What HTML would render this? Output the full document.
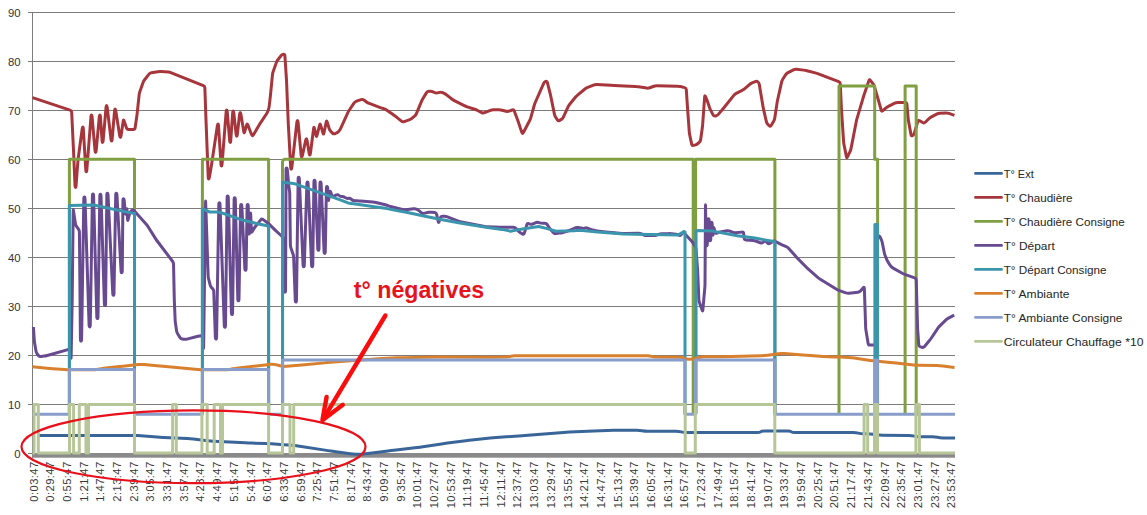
<!DOCTYPE html>
<html><head><meta charset="utf-8"><title>chart</title>
<style>
html,body{margin:0;padding:0;background:#fff;}
body{width:1147px;height:515px;overflow:hidden;font-family:"Liberation Sans",sans-serif;}
svg{display:block;}
text{font-family:"Liberation Sans",sans-serif;}
.s{fill:none;stroke-width:3.0;stroke-linejoin:round;stroke-linecap:butt;}
.g{stroke:#7c7c7c;stroke-width:1;shape-rendering:crispEdges;}
.yl{font-size:11.3px;fill:#333;text-anchor:end;}
.xl{font-size:11.2px;fill:#383838;text-anchor:end;letter-spacing:0.42px;}
.lg{font-size:11.2px;fill:#262626;}
</style></head><body>
<svg width="1147" height="515" viewBox="0 0 1147 515">
<rect x="0" y="0" width="1147" height="515" fill="#ffffff"/>
<line class="g" x1="28" y1="453.5" x2="955" y2="453.5"/>
<text class="yl" x="20.5" y="457.7">0</text>
<line class="g" x1="28" y1="404.5" x2="955" y2="404.5"/>
<text class="yl" x="20.5" y="408.7">10</text>
<line class="g" x1="28" y1="355.5" x2="955" y2="355.5"/>
<text class="yl" x="20.5" y="359.7">20</text>
<line class="g" x1="28" y1="306.5" x2="955" y2="306.5"/>
<text class="yl" x="20.5" y="310.7">30</text>
<line class="g" x1="28" y1="257.5" x2="955" y2="257.5"/>
<text class="yl" x="20.5" y="261.7">40</text>
<line class="g" x1="28" y1="208.5" x2="955" y2="208.5"/>
<text class="yl" x="20.5" y="212.7">50</text>
<line class="g" x1="28" y1="159.5" x2="955" y2="159.5"/>
<text class="yl" x="20.5" y="163.7">60</text>
<line class="g" x1="28" y1="110.5" x2="955" y2="110.5"/>
<text class="yl" x="20.5" y="114.7">70</text>
<line class="g" x1="28" y1="61.5" x2="955" y2="61.5"/>
<text class="yl" x="20.5" y="65.7">80</text>
<line class="g" x1="28" y1="12.5" x2="955" y2="12.5"/>
<text class="yl" x="20.5" y="16.7">90</text>
<line class="g" x1="32.5" y1="12" x2="32.5" y2="457.7"/>
<rect x="32" y="453" width="923" height="4.7" fill="#8a8a8a"/>
<text class="xl" transform="translate(37.60,461.4) rotate(-90)" x="0" y="0">0:03:47</text>
<text class="xl" transform="translate(54.29,461.4) rotate(-90)" x="0" y="0">0:29:47</text>
<text class="xl" transform="translate(70.97,461.4) rotate(-90)" x="0" y="0">0:55:47</text>
<text class="xl" transform="translate(87.65,461.4) rotate(-90)" x="0" y="0">1:21:47</text>
<text class="xl" transform="translate(104.34,461.4) rotate(-90)" x="0" y="0">1:47:47</text>
<text class="xl" transform="translate(121.02,461.4) rotate(-90)" x="0" y="0">2:13:47</text>
<text class="xl" transform="translate(137.71,461.4) rotate(-90)" x="0" y="0">2:39:47</text>
<text class="xl" transform="translate(154.39,461.4) rotate(-90)" x="0" y="0">3:05:47</text>
<text class="xl" transform="translate(171.08,461.4) rotate(-90)" x="0" y="0">3:31:47</text>
<text class="xl" transform="translate(187.76,461.4) rotate(-90)" x="0" y="0">3:57:47</text>
<text class="xl" transform="translate(204.45,461.4) rotate(-90)" x="0" y="0">4:23:47</text>
<text class="xl" transform="translate(221.13,461.4) rotate(-90)" x="0" y="0">4:49:47</text>
<text class="xl" transform="translate(237.82,461.4) rotate(-90)" x="0" y="0">5:15:47</text>
<text class="xl" transform="translate(254.50,461.4) rotate(-90)" x="0" y="0">5:41:47</text>
<text class="xl" transform="translate(271.19,461.4) rotate(-90)" x="0" y="0">6:07:47</text>
<text class="xl" transform="translate(287.88,461.4) rotate(-90)" x="0" y="0">6:33:47</text>
<text class="xl" transform="translate(304.56,461.4) rotate(-90)" x="0" y="0">6:59:47</text>
<text class="xl" transform="translate(321.25,461.4) rotate(-90)" x="0" y="0">7:25:47</text>
<text class="xl" transform="translate(337.93,461.4) rotate(-90)" x="0" y="0">7:51:47</text>
<text class="xl" transform="translate(354.62,461.4) rotate(-90)" x="0" y="0">8:17:47</text>
<text class="xl" transform="translate(371.30,461.4) rotate(-90)" x="0" y="0">8:43:47</text>
<text class="xl" transform="translate(387.99,461.4) rotate(-90)" x="0" y="0">9:09:47</text>
<text class="xl" transform="translate(404.67,461.4) rotate(-90)" x="0" y="0">9:35:47</text>
<text class="xl" transform="translate(421.36,461.4) rotate(-90)" x="0" y="0">10:01:47</text>
<text class="xl" transform="translate(438.04,461.4) rotate(-90)" x="0" y="0">10:27:47</text>
<text class="xl" transform="translate(454.72,461.4) rotate(-90)" x="0" y="0">10:53:47</text>
<text class="xl" transform="translate(471.41,461.4) rotate(-90)" x="0" y="0">11:19:47</text>
<text class="xl" transform="translate(488.09,461.4) rotate(-90)" x="0" y="0">11:45:47</text>
<text class="xl" transform="translate(504.78,461.4) rotate(-90)" x="0" y="0">12:11:47</text>
<text class="xl" transform="translate(521.47,461.4) rotate(-90)" x="0" y="0">12:37:47</text>
<text class="xl" transform="translate(538.15,461.4) rotate(-90)" x="0" y="0">13:03:47</text>
<text class="xl" transform="translate(554.84,461.4) rotate(-90)" x="0" y="0">13:29:47</text>
<text class="xl" transform="translate(571.52,461.4) rotate(-90)" x="0" y="0">13:55:47</text>
<text class="xl" transform="translate(588.20,461.4) rotate(-90)" x="0" y="0">14:21:47</text>
<text class="xl" transform="translate(604.89,461.4) rotate(-90)" x="0" y="0">14:47:47</text>
<text class="xl" transform="translate(621.57,461.4) rotate(-90)" x="0" y="0">15:13:47</text>
<text class="xl" transform="translate(638.26,461.4) rotate(-90)" x="0" y="0">15:39:47</text>
<text class="xl" transform="translate(654.94,461.4) rotate(-90)" x="0" y="0">16:05:47</text>
<text class="xl" transform="translate(671.63,461.4) rotate(-90)" x="0" y="0">16:31:47</text>
<text class="xl" transform="translate(688.31,461.4) rotate(-90)" x="0" y="0">16:57:47</text>
<text class="xl" transform="translate(705.00,461.4) rotate(-90)" x="0" y="0">17:23:47</text>
<text class="xl" transform="translate(721.68,461.4) rotate(-90)" x="0" y="0">17:49:47</text>
<text class="xl" transform="translate(738.37,461.4) rotate(-90)" x="0" y="0">18:15:47</text>
<text class="xl" transform="translate(755.05,461.4) rotate(-90)" x="0" y="0">18:41:47</text>
<text class="xl" transform="translate(771.74,461.4) rotate(-90)" x="0" y="0">19:07:47</text>
<text class="xl" transform="translate(788.42,461.4) rotate(-90)" x="0" y="0">19:33:47</text>
<text class="xl" transform="translate(805.11,461.4) rotate(-90)" x="0" y="0">19:59:47</text>
<text class="xl" transform="translate(821.79,461.4) rotate(-90)" x="0" y="0">20:25:47</text>
<text class="xl" transform="translate(838.48,461.4) rotate(-90)" x="0" y="0">20:51:47</text>
<text class="xl" transform="translate(855.16,461.4) rotate(-90)" x="0" y="0">21:17:47</text>
<text class="xl" transform="translate(871.85,461.4) rotate(-90)" x="0" y="0">21:43:47</text>
<text class="xl" transform="translate(888.53,461.4) rotate(-90)" x="0" y="0">22:09:47</text>
<text class="xl" transform="translate(905.22,461.4) rotate(-90)" x="0" y="0">22:35:47</text>
<text class="xl" transform="translate(921.90,461.4) rotate(-90)" x="0" y="0">23:01:47</text>
<text class="xl" transform="translate(938.59,461.4) rotate(-90)" x="0" y="0">23:27:47</text>
<text class="xl" transform="translate(955.27,461.4) rotate(-90)" x="0" y="0">23:53:47</text>
<path class="s" stroke="#3A6598" stroke-width="3.0" d="M39.0,435.4 L131.70,435.40 Q134.70,435.40 137.69,435.62 L157.01,437.08 Q160.00,437.30 163.00,437.43 L163.80,437.47 Q166.80,437.60 169.80,437.73 L187.30,438.47 Q190.30,438.60 193.28,438.97 L207.52,440.73 Q210.50,441.10 213.50,441.25 L245.40,442.85 Q248.40,443.00 251.40,443.09 L265.60,443.51 Q268.60,443.60 271.59,443.82 L283.31,444.68 Q286.30,444.90 289.29,445.11 L292.01,445.29 Q295.00,445.50 297.96,445.96 L324.94,450.14 Q327.90,450.60 330.87,451.01 L350.13,453.69 Q353.10,454.10 355.65,454.20 L355.65,454.20 Q358.20,454.30 361.20,454.17 L362.00,454.13 Q365.00,454.00 367.97,453.61 L388.03,450.99 Q391.00,450.60 393.98,450.24 L417.02,447.46 Q420.00,447.10 422.97,446.66 L441.43,443.94 Q444.40,443.50 447.37,443.11 L465.83,440.69 Q468.80,440.30 471.78,439.99 L490.22,438.11 Q493.20,437.80 496.19,437.57 L522.01,435.63 Q525.00,435.40 527.99,435.17 L563.51,432.43 Q566.50,432.20 569.50,432.05 L587.90,431.15 Q590.90,431.00 593.90,430.89 L607.40,430.41 Q610.40,430.30 613.40,430.30 L636.70,430.30 Q639.70,430.30 642.15,430.80 L642.15,430.80 Q644.60,431.30 647.60,431.30 L675.80,431.30 Q678.80,431.30 681.25,431.90 L681.25,431.90 Q683.70,432.50 686.70,432.50 L757.00,432.50 Q760.00,432.50 760.75,431.75 L760.75,431.75 Q761.50,431.00 764.50,431.00 L787.50,431.00 Q790.50,431.00 791.25,431.75 L791.25,431.75 Q792.00,432.50 795.00,432.50 L853.00,432.50 Q856.00,432.50 858.30,433.10 L858.30,433.10 Q860.60,433.70 863.60,433.70 L867.00,433.70 Q870.00,433.70 872.97,434.15 L876.33,434.65 Q879.30,435.10 882.30,435.15 L908.90,435.55 Q911.90,435.60 914.25,436.15 L914.25,436.15 Q916.60,436.70 919.60,436.70 L932.20,436.70 Q935.20,436.70 937.55,437.30 L937.55,437.30 Q939.90,437.90 942.90,437.90 L955.0,437.9"/>
<path class="s" stroke="#A7363C" stroke-width="2.8" d="M32.5,97.6 L70.08,110.10 Q71.60,110.60 71.68,112.20 L73.42,148.40 Q73.50,150.00 73.57,151.60 L75.03,185.80 Q75.10,187.40 75.50,187.40 L75.50,187.40 Q75.90,187.40 76.02,185.80 L77.88,161.60 Q78.00,160.00 78.21,158.41 L82.19,128.69 Q82.40,127.10 82.80,127.10 L82.80,127.10 Q83.20,127.10 83.30,128.70 L85.80,170.10 Q85.90,171.70 86.30,171.70 L86.30,171.70 Q86.70,171.70 86.82,170.10 L90.98,116.50 Q91.10,114.90 91.50,114.90 L91.50,114.90 Q91.90,114.90 92.04,116.49 L95.06,150.81 Q95.20,152.40 95.60,152.40 L95.60,152.40 Q96.00,152.40 96.15,150.81 L99.35,116.49 Q99.50,114.90 99.90,114.90 L99.90,114.90 Q100.30,114.90 100.41,116.50 L102.09,140.90 Q102.20,142.50 102.60,142.50 L102.60,142.50 Q103.00,142.50 103.14,140.91 L106.06,107.19 Q106.20,105.60 106.60,105.60 L106.60,105.60 Q107.00,105.60 107.19,107.19 L111.01,139.51 Q111.20,141.10 111.60,141.10 L111.60,141.10 Q112.00,141.10 112.13,139.51 L114.57,110.69 Q114.70,109.10 115.10,109.10 L115.10,109.10 Q115.50,109.10 115.75,110.68 L119.75,136.02 Q120.00,137.60 120.40,137.60 L120.40,137.60 Q120.80,137.60 121.03,136.02 L123.27,120.78 Q123.50,119.20 124.02,120.71 L126.48,127.89 Q127.00,129.40 128.60,129.40 L133.30,129.40 Q134.90,129.40 135.13,127.82 L136.77,116.58 Q137.00,115.00 137.17,113.41 L139.13,94.79 Q139.30,93.20 139.83,91.69 L143.07,82.51 Q143.60,81.00 144.59,79.74 L148.81,74.36 Q149.80,73.10 151.38,72.82 L157.82,71.68 Q159.40,71.40 161.00,71.52 L168.30,72.08 Q169.90,72.20 171.38,72.80 L203.32,85.60 Q204.80,86.20 204.86,87.80 L205.94,118.40 Q206.00,120.00 206.06,121.60 L208.24,177.40 Q208.30,179.00 208.70,179.00 L208.70,179.00 Q209.10,179.00 209.37,177.42 L211.23,166.58 Q211.50,165.00 211.74,163.42 L217.36,125.68 Q217.60,124.10 218.00,124.10 L218.00,124.10 Q218.40,124.10 218.50,125.70 L221.00,164.40 Q221.10,166.00 221.50,166.00 L221.50,166.00 Q221.90,166.00 222.03,164.40 L226.17,111.70 Q226.30,110.10 226.70,110.10 L226.70,110.10 Q227.10,110.10 227.23,111.69 L229.67,140.81 Q229.80,142.40 230.20,142.40 L230.20,142.40 Q230.60,142.40 230.71,140.80 L232.69,112.60 Q232.80,111.00 233.20,111.00 L233.20,111.00 Q233.60,111.00 233.77,112.59 L236.13,134.71 Q236.30,136.30 236.70,136.30 L236.70,136.30 Q237.10,136.30 237.28,134.71 L239.62,113.99 Q239.80,112.40 240.20,112.40 L240.20,112.40 Q240.60,112.40 240.86,113.98 L243.84,132.12 Q244.10,133.70 244.55,132.17 L246.75,124.73 Q247.20,123.20 247.77,124.70 L251.43,134.30 Q252.00,135.80 252.40,135.80 L252.40,135.80 Q252.80,135.80 253.62,134.43 L259.48,124.57 Q260.30,123.20 261.19,121.87 L266.41,114.03 Q267.30,112.70 267.84,111.20 L268.46,109.50 Q269.00,108.00 269.18,106.41 L270.32,96.59 Q270.50,95.00 270.65,93.41 L272.45,74.79 Q272.60,73.20 273.13,71.69 L276.37,62.51 Q276.90,61.00 277.89,59.75 L281.21,55.55 Q282.20,54.30 283.50,54.30 L283.50,54.30 Q284.80,54.30 284.91,55.90 L286.39,78.40 Q286.50,80.00 286.57,81.60 L288.23,122.30 Q288.30,123.90 288.39,125.50 L290.71,167.70 Q290.80,169.30 291.20,169.30 L291.20,169.30 Q291.60,169.30 291.78,167.71 L296.92,121.99 Q297.10,120.40 297.50,120.40 L297.50,120.40 Q297.90,120.40 298.05,121.99 L301.15,155.31 Q301.30,156.90 301.70,156.90 L301.70,156.90 Q302.10,156.90 302.44,155.34 L305.66,140.36 Q306.00,138.80 306.40,138.80 L306.40,138.80 Q306.80,138.80 307.05,140.38 L309.15,153.52 Q309.40,155.10 309.80,155.10 L309.80,155.10 Q310.20,155.10 310.40,153.51 L313.70,127.99 Q313.90,126.40 314.27,127.96 L316.13,135.74 Q316.50,137.30 316.90,135.75 L319.70,124.85 Q320.10,123.30 320.55,124.84 L323.05,133.36 Q323.50,134.90 323.83,133.33 L326.27,121.77 Q326.60,120.20 327.07,121.73 L329.23,128.77 Q329.70,130.30 330.83,131.43 L332.47,133.07 Q333.60,134.20 335.08,133.59 L336.02,133.21 Q337.50,132.60 338.59,131.42 L338.81,131.18 Q339.90,130.00 340.56,128.54 L347.64,113.06 Q348.30,111.60 349.19,110.27 L353.61,103.63 Q354.50,102.30 355.50,101.75 L355.50,101.75 Q356.50,101.20 358.01,100.68 L361.09,99.62 Q362.60,99.10 363.89,100.04 L366.51,101.96 Q367.80,102.90 369.30,103.47 L380.30,107.63 Q381.80,108.20 383.36,108.57 L383.64,108.63 Q385.20,109.00 386.51,109.91 L392.69,114.19 Q394.00,115.10 395.25,116.10 L401.45,121.10 Q402.70,122.10 404.21,121.58 L409.09,119.92 Q410.60,119.40 411.83,118.38 L414.57,116.12 Q415.80,115.10 416.41,113.62 L421.39,101.68 Q422.00,100.20 422.82,98.83 L426.38,92.87 Q427.20,91.50 428.79,91.36 L430.01,91.24 Q431.60,91.10 433.04,91.80 L434.46,92.50 Q435.90,93.20 437.46,92.85 L439.64,92.35 Q441.20,92.00 442.64,92.69 L444.16,93.41 Q445.60,94.10 446.86,95.09 L452.14,99.21 Q453.40,100.20 454.83,100.91 L464.27,105.59 Q465.70,106.30 467.22,106.81 L474.68,109.29 Q476.20,109.80 477.63,110.52 L481.67,112.58 Q483.10,113.30 484.59,112.71 L490.41,110.39 Q491.90,109.80 493.50,109.80 L499.00,109.80 Q500.60,109.80 502.15,110.20 L506.05,111.20 Q507.60,111.60 509.11,111.08 L512.19,110.02 Q513.70,109.50 514.26,111.00 L517.54,119.70 Q518.10,121.20 518.60,122.72 L521.60,131.88 Q522.10,133.40 522.50,133.40 L522.50,133.40 Q522.90,133.40 523.65,131.99 L529.55,120.81 Q530.30,119.40 530.73,117.86 L534.27,105.24 Q534.70,103.70 535.34,102.24 L543.66,83.36 Q544.30,81.90 545.65,81.45 L545.65,81.45 Q547.00,81.00 547.39,82.55 L550.11,93.45 Q550.50,95.00 550.82,96.57 L554.48,114.33 Q554.80,115.90 555.68,117.24 L557.42,119.86 Q558.30,121.20 559.68,120.39 L561.32,119.41 Q562.70,118.60 563.37,117.15 L568.03,106.95 Q568.70,105.50 569.71,104.26 L575.59,97.04 Q576.60,95.80 577.84,94.79 L584.96,89.01 Q586.20,88.00 587.69,87.41 L593.51,85.09 Q595.00,84.50 596.60,84.57 L610.80,85.23 Q612.40,85.30 614.00,85.38 L635.30,86.52 Q636.90,86.60 638.48,86.84 L646.72,88.06 Q648.30,88.30 649.80,87.74 L653.80,86.26 Q655.30,85.70 656.90,85.73 L677.30,86.17 Q678.90,86.20 680.45,86.58 L684.65,87.62 Q686.20,88.00 686.31,89.60 L687.49,107.40 Q687.60,109.00 687.72,110.60 L689.28,131.80 Q689.40,133.40 689.73,134.97 L691.67,144.13 Q692.00,145.70 693.57,145.38 L694.83,145.12 Q696.40,144.80 697.60,143.75 L699.20,142.35 Q700.40,141.30 700.62,139.72 L702.28,127.98 Q702.50,126.40 702.62,124.80 L704.68,96.60 Q704.80,95.00 705.44,96.46 L706.36,98.54 Q707.00,100.00 707.51,101.52 L709.49,107.48 Q710.00,109.00 710.74,110.42 L713.06,114.88 Q713.80,116.30 715.37,115.99 L715.73,115.91 Q717.30,115.60 718.32,114.37 L723.28,108.43 Q724.30,107.20 725.30,105.95 L733.80,95.35 Q734.80,94.10 736.23,93.38 L742.17,90.42 Q743.60,89.70 744.81,88.65 L749.39,84.65 Q750.60,83.60 752.07,82.97 L755.23,81.63 Q756.70,81.00 757.85,81.85 L757.85,81.85 Q759.00,82.70 759.27,84.28 L759.53,85.72 Q759.80,87.30 760.06,88.88 L763.04,106.72 Q763.30,108.30 763.66,109.86 L766.44,121.84 Q766.80,123.40 767.93,124.53 L769.17,125.77 Q770.30,126.90 771.12,125.53 L773.68,121.27 Q774.50,119.90 774.74,118.32 L777.06,102.88 Q777.30,101.30 777.65,99.74 L781.65,81.86 Q782.00,80.30 782.88,78.96 L785.72,74.64 Q786.60,73.30 788.02,72.57 L793.38,69.83 Q794.80,69.10 796.39,69.28 L803.71,70.12 Q805.30,70.30 806.85,70.70 L815.35,72.90 Q816.90,73.30 818.39,73.87 L838.71,81.63 Q840.20,82.20 840.27,83.80 L841.33,106.70 Q841.40,108.30 841.51,109.90 L843.59,141.60 Q843.70,143.20 844.02,144.77 L846.48,156.83 Q846.80,158.40 847.49,156.96 L850.01,151.64 Q850.70,150.20 851.01,148.63 L856.29,121.47 Q856.60,119.90 857.05,118.37 L863.05,98.13 Q863.50,96.60 864.01,95.08 L868.89,80.62 Q869.40,79.10 870.38,80.36 L873.02,83.74 Q874.00,85.00 874.44,86.54 L878.26,99.76 Q878.70,101.30 879.14,102.84 L881.26,110.26 Q881.70,111.80 882.89,110.73 L885.71,108.17 Q886.90,107.10 888.33,106.38 L894.77,103.12 Q896.20,102.40 897.80,102.40 L905.10,102.40 Q906.70,102.40 906.85,103.99 L908.15,118.31 Q908.30,119.90 908.59,121.47 L911.01,134.63 Q911.30,136.20 912.50,135.65 L912.50,135.65 Q913.70,135.10 914.16,133.57 L917.84,121.43 Q918.30,119.90 919.67,120.73 L922.73,122.57 Q924.10,123.40 925.24,122.28 L928.86,118.72 Q930.00,117.60 931.42,116.86 L936.68,114.14 Q938.10,113.40 939.70,113.32 L945.90,112.98 Q947.50,112.90 949.01,113.42 L954.5,115.3"/>
<path class="s" stroke="#7F9F40" stroke-width="2.7" stroke-linejoin="miter" d="M69.4,413.8 L69.4,159.2 L134.5,159.2 L134.5,413.8 M202.4,413.8 L202.4,159.2 L268.6,159.2 L268.6,413.8 M282.5,413.8 L282.5,162.0 L283.1,160.0 L284.6,159.2 L693.2,159.2 L693.2,413.8 M695.6,413.8 L695.6,159.2 L774.9,159.2 L774.9,413.8 M839.0,413.8 L839.0,86.0 L874.7,86.0 L874.7,159.2 L877.6,159.2 L877.6,413.8 M905.1,413.8 L905.1,86.0 L916.2,86.0 L916.2,413.8"/>
<path class="s" stroke="#684A90" stroke-width="3.3" d="M33.4,327.0 L34.29,340.20 Q34.40,341.80 34.67,343.38 L36.03,351.22 Q36.30,352.80 37.30,354.05 L38.40,355.45 Q39.40,356.70 40.99,356.50 L44.11,356.10 Q45.70,355.90 47.24,355.47 L66.16,350.13 Q67.70,349.70 68.85,349.60 L68.85,349.60 Q70.00,349.50 70.18,351.09 L70.92,357.41 Q71.10,359.00 71.13,357.40 L72.17,301.60 Q72.20,300.00 72.22,298.40 L73.18,210.40 Q73.20,208.80 73.43,210.38 L75.37,223.52 Q75.60,225.10 76.52,226.41 L78.48,229.19 Q79.40,230.50 79.42,232.10 L80.43,339.40 Q80.45,341.00 81.00,341.00 L81.00,341.00 Q81.55,341.00 81.58,339.40 L83.82,198.70 Q83.85,197.10 84.40,197.10 L84.40,197.10 Q84.95,197.10 85.00,198.70 L89.10,325.30 Q89.15,326.90 89.70,326.90 L89.70,326.90 Q90.25,326.90 90.28,325.30 L92.42,195.60 Q92.45,194.00 93.00,194.00 L93.00,194.00 Q93.55,194.00 93.59,195.60 L96.81,316.90 Q96.85,318.50 97.40,318.50 L97.40,318.50 Q97.95,318.50 97.97,316.90 L99.83,195.90 Q99.85,194.30 100.40,194.30 L100.40,194.30 Q100.95,194.30 101.00,195.90 L104.40,303.90 Q104.45,305.50 105.00,305.50 L105.00,305.50 Q105.55,305.50 105.57,303.90 L106.83,194.80 Q106.85,193.20 107.40,193.20 L107.40,193.20 Q107.95,193.20 108.03,194.80 L112.77,293.70 Q112.85,295.30 113.40,295.30 L113.40,295.30 Q113.95,295.30 113.98,293.70 L115.72,194.80 Q115.75,193.20 116.30,193.20 L116.30,193.20 Q116.85,193.20 116.94,194.80 L121.06,271.10 Q121.15,272.70 121.70,272.70 L121.70,272.70 Q122.25,272.70 122.27,271.10 L122.93,200.30 Q122.95,198.70 123.50,198.70 L123.50,198.70 Q124.05,198.70 124.19,200.29 L125.36,213.41 Q125.50,215.00 125.81,213.43 L126.59,209.57 Q126.90,208.00 127.00,209.60 L127.60,219.60 Q127.70,221.20 128.09,219.65 L129.61,213.55 Q130.00,212.00 131.25,211.00 L131.85,210.50 Q133.10,209.50 134.17,210.69 L146.03,223.91 Q147.10,225.10 147.95,226.46 L155.55,238.64 Q156.40,240.00 157.37,241.27 L172.53,261.23 Q173.50,262.50 173.53,264.10 L174.27,298.40 Q174.30,300.00 174.37,301.60 L175.13,319.80 Q175.20,321.40 175.43,322.98 L176.57,330.82 Q176.80,332.40 177.64,333.76 L179.86,337.34 Q180.70,338.70 182.28,338.97 L183.82,339.23 Q185.40,339.50 186.95,339.09 L197.95,336.21 Q199.50,335.80 201.00,335.65 L201.00,335.65 Q202.50,335.50 202.63,337.09 L203.47,347.51 Q203.60,349.10 203.62,347.50 L204.48,281.60 Q204.50,280.00 204.52,278.40 L205.58,201.90 Q205.60,200.30 205.65,201.90 L208.15,275.70 Q208.20,277.30 208.60,278.85 L210.20,285.15 Q210.60,286.70 211.73,287.83 L212.57,288.67 Q213.70,289.80 213.76,291.40 L215.39,337.40 Q215.45,339.00 216.00,339.00 L216.00,339.00 Q216.55,339.00 216.58,337.40 L218.82,204.30 Q218.85,202.70 219.40,202.70 L219.40,202.70 Q219.95,202.70 220.01,204.30 L224.29,325.70 Q224.35,327.30 224.90,327.30 L224.90,327.30 Q225.45,327.30 225.47,325.70 L227.13,197.70 Q227.15,196.10 227.70,196.10 L227.70,196.10 Q228.25,196.10 228.29,197.70 L231.41,313.00 Q231.45,314.60 232.00,314.60 L232.00,314.60 Q232.55,314.60 232.57,313.00 L234.13,199.30 Q234.15,197.70 234.70,197.70 L234.70,197.70 Q235.25,197.70 235.29,199.30 L237.81,299.20 Q237.85,300.80 238.40,300.80 L238.40,300.80 Q238.95,300.80 238.98,299.20 L240.62,206.00 Q240.65,204.40 241.20,204.40 L241.20,204.40 Q241.75,204.40 241.83,206.00 L244.87,268.70 Q244.95,270.30 245.50,270.30 L245.50,270.30 Q246.05,270.30 246.08,268.70 L247.12,206.20 Q247.15,204.60 247.70,204.60 L247.70,204.60 Q248.25,204.60 248.26,206.20 L248.44,232.40 Q248.45,234.00 249.00,234.00 L249.00,234.00 Q249.55,234.00 249.63,232.40 L250.52,213.90 Q250.60,212.30 250.67,213.90 L251.43,231.40 Q251.50,233.00 252.25,231.59 L253.25,229.71 Q254.00,228.30 254.99,227.05 L260.71,219.85 Q261.70,218.60 262.99,219.55 L263.81,220.15 Q265.10,221.10 266.38,222.05 L267.72,223.05 Q269.00,224.00 270.13,225.13 L273.67,228.67 Q274.80,229.80 275.98,230.88 L279.92,234.52 Q281.10,235.60 282.23,236.73 L282.37,236.87 Q283.50,238.00 283.53,239.60 L284.42,290.40 Q284.45,292.00 285.00,292.00 L285.00,292.00 Q285.55,292.00 285.56,290.40 L286.04,169.50 Q286.05,167.90 286.60,167.90 L286.60,167.90 Q287.15,167.90 287.29,169.49 L288.76,185.71 Q288.90,187.30 289.17,188.88 L289.43,190.42 Q289.70,192.00 289.72,193.60 L290.38,244.80 Q290.40,246.40 290.92,247.91 L293.08,254.29 Q293.60,255.80 293.66,257.40 L295.29,300.40 Q295.35,302.00 295.90,302.00 L295.90,302.00 Q296.45,302.00 296.47,300.40 L298.13,178.80 Q298.15,177.20 298.70,177.20 L298.70,177.20 Q299.25,177.20 299.32,178.80 L303.08,265.10 Q303.15,266.70 303.70,266.70 L303.70,266.70 Q304.25,266.70 304.30,265.10 L306.90,183.50 Q306.95,181.90 307.50,181.90 L307.50,181.90 Q308.05,181.90 308.12,183.50 L311.58,265.10 Q311.65,266.70 312.20,266.70 L312.20,266.70 Q312.75,266.70 312.77,265.10 L313.93,181.90 Q313.95,180.30 314.50,180.30 L314.50,180.30 Q315.05,180.30 315.11,181.90 L317.79,248.70 Q317.85,250.30 318.40,250.30 L318.40,250.30 Q318.95,250.30 318.97,248.70 L319.93,183.50 Q319.95,181.90 320.50,181.90 L320.50,181.90 Q321.05,181.90 321.12,183.50 L324.08,251.80 Q324.15,253.40 324.70,253.40 L324.70,253.40 Q325.25,253.40 325.28,251.80 L326.42,188.10 Q326.45,186.50 327.00,186.50 L327.00,186.50 Q327.55,186.50 327.65,188.10 L328.40,199.70 Q328.50,201.30 328.73,199.72 L329.87,191.98 Q330.10,190.40 330.65,191.90 L331.85,195.20 Q332.40,196.70 333.87,196.06 L336.43,194.94 Q337.90,194.30 339.01,195.46 L339.09,195.54 Q340.20,196.70 341.75,196.50 L341.75,196.50 Q343.30,196.30 344.60,197.23 L345.10,197.57 Q346.40,198.50 348.00,198.38 L348.70,198.32 Q350.30,198.20 351.43,199.33 L351.47,199.37 Q352.60,200.50 354.19,200.63 L357.31,200.87 Q358.90,201.00 360.50,201.11 L372.80,201.99 Q374.40,202.10 375.95,202.49 L385.35,204.81 Q386.90,205.20 388.39,205.78 L388.51,205.82 Q390.00,206.40 391.55,206.79 L402.45,209.51 Q404.00,209.90 405.59,209.70 L413.71,208.70 Q415.30,208.50 416.68,209.31 L418.32,210.29 Q419.70,211.10 420.83,212.23 L421.17,212.57 Q422.30,213.70 423.86,213.36 L428.64,212.34 Q430.20,212.00 431.79,212.21 L434.71,212.59 Q436.30,212.80 436.64,214.36 L438.26,221.74 Q438.60,223.30 439.06,221.77 L440.24,217.83 Q440.70,216.30 442.30,216.30 L444.30,216.30 Q445.90,216.30 447.40,216.87 L458.40,221.03 Q459.90,221.60 461.47,221.91 L484.63,226.49 Q486.20,226.80 487.80,226.85 L500.30,227.25 Q501.90,227.30 503.50,227.30 L513.40,227.30 Q515.00,227.30 516.08,228.48 L518.32,230.92 Q519.40,232.10 520.77,232.93 L522.33,233.87 Q523.70,234.70 524.21,233.18 L524.99,230.92 Q525.50,229.40 525.93,227.86 L526.77,224.84 Q527.20,223.30 528.74,223.72 L530.06,224.08 Q531.60,224.50 533.05,223.83 L535.35,222.77 Q536.80,222.10 538.34,222.52 L539.66,222.88 Q541.20,223.30 542.80,223.30 L544.80,223.30 Q546.40,223.30 547.24,224.66 L548.26,226.34 Q549.10,227.70 550.14,228.92 L553.26,232.58 Q554.30,233.80 555.89,233.60 L559.71,233.10 Q561.30,232.90 562.83,232.44 L568.47,230.76 Q570.00,230.30 571.44,229.60 L574.76,228.00 Q576.20,227.30 577.78,227.56 L582.42,228.34 Q584.00,228.60 585.00,228.05 L585.00,228.05 Q586.00,227.50 587.45,228.19 L588.55,228.71 Q590.00,229.40 591.56,229.77 L595.94,230.83 Q597.50,231.20 599.09,231.35 L608.41,232.25 Q610.00,232.40 611.59,232.54 L622.11,233.46 Q623.70,233.60 625.30,233.56 L638.40,233.24 Q640.00,233.20 641.44,233.89 L643.56,234.91 Q645.00,235.60 646.60,235.60 L653.40,235.60 Q655.00,235.60 656.51,235.06 L658.49,234.34 Q660.00,233.80 661.60,233.77 L668.40,233.63 Q670.00,233.60 671.59,233.74 L676.31,234.16 Q677.90,234.30 678.95,235.05 L678.95,235.05 Q680.00,235.80 681.09,234.63 L682.91,232.67 Q684.00,231.50 684.45,232.60 L684.45,232.60 Q684.90,233.70 685.97,234.89 L692.13,241.81 Q693.20,243.00 694.02,244.37 L695.08,246.13 Q695.90,247.50 696.02,249.10 L697.48,268.40 Q697.60,270.00 697.67,271.60 L698.83,299.40 Q698.90,301.00 699.44,302.51 L702.16,310.19 Q702.70,311.70 702.84,310.11 L704.86,287.19 Q705.00,285.60 705.01,284.00 L705.49,205.60 Q705.50,204.00 705.52,205.60 L706.13,244.30 Q706.15,245.90 706.70,245.90 L706.70,245.90 Q707.25,245.90 707.29,244.30 L707.91,220.40 Q707.95,218.80 708.50,218.80 L708.50,218.80 Q709.05,218.80 709.09,220.40 L709.61,239.10 Q709.65,240.70 710.20,240.70 L710.20,240.70 Q710.75,240.70 710.77,239.10 L710.93,223.90 Q710.95,222.30 711.50,222.30 L711.50,222.30 Q712.05,222.30 712.16,223.90 L712.89,234.40 Q713.00,236.00 713.12,234.40 L713.58,228.30 Q713.70,226.70 714.10,228.25 L715.10,232.15 Q715.50,233.70 716.99,233.12 L718.41,232.58 Q719.90,232.00 721.48,231.75 L727.02,230.85 Q728.60,230.60 730.07,231.22 L732.33,232.18 Q733.80,232.80 735.39,232.67 L741.91,232.13 Q743.50,232.00 743.66,233.59 L744.14,238.21 Q744.30,239.80 745.89,239.94 L753.21,240.56 Q754.80,240.70 756.30,241.26 L760.30,242.74 Q761.80,243.30 763.08,242.35 L764.02,241.65 Q765.30,240.70 766.43,241.83 L767.67,243.07 Q768.80,244.20 770.14,243.32 L772.76,241.58 Q774.10,240.70 775.51,241.46 L778.59,243.14 Q780.00,243.90 781.47,244.53 L786.23,246.57 Q787.70,247.20 788.76,248.40 L796.14,256.80 Q797.20,258.00 798.33,259.14 L806.87,267.76 Q808.00,268.90 809.21,269.95 L817.69,277.35 Q818.90,278.40 820.26,279.24 L836.54,289.26 Q837.90,290.10 839.41,290.63 L845.89,292.87 Q847.40,293.40 848.99,293.22 L858.11,292.18 Q859.70,292.00 860.74,290.78 L863.26,287.82 Q864.30,286.60 864.35,288.20 L865.65,327.10 Q865.70,328.70 865.96,330.28 L868.14,343.42 Q868.40,345.00 870.00,345.00 L871.10,345.00 Q872.70,345.00 874.10,345.00 L874.10,345.00 Q875.50,345.00 875.52,343.40 L876.48,241.60 Q876.50,240.00 877.30,238.61 L878.40,236.69 Q879.20,235.30 879.91,236.74 L881.19,239.36 Q881.90,240.80 882.21,242.37 L884.29,252.73 Q884.60,254.30 885.21,255.78 L886.79,259.62 Q887.40,261.10 888.27,262.44 L890.03,265.16 Q890.90,266.50 892.19,267.44 L892.21,267.46 Q893.50,268.40 894.90,269.18 L901.80,273.02 Q903.20,273.80 904.71,274.33 L914.69,277.87 Q916.20,278.40 916.24,280.00 L917.56,327.10 Q917.60,328.70 917.72,330.30 L918.78,344.80 Q918.90,346.40 920.44,346.84 L921.96,347.26 Q923.50,347.70 924.53,346.47 L929.27,340.83 Q930.30,339.60 931.19,338.27 L937.61,328.63 Q938.50,327.30 939.63,326.17 L945.47,320.33 Q946.60,319.20 948.01,318.44 L954.2,315.1"/>
<path class="s" stroke="#3B96AD" stroke-width="2.9" stroke-linejoin="miter" d="M69.4,413.8 L69.4,205.6 L93.4,205.0 L133.1,213.4 L134.5,213.6 L134.5,413.8 M202.4,413.8 L202.4,208.9 L204.3,209.7 L209.8,212.0 L218.3,212.0 L226.1,214.3 L241.7,219.8 L257.2,223.7 L268.6,226.0 L268.6,413.8 M282.6,413.8 L282.6,182.3 L293.6,183.4 L309.1,188.9 L324.7,194.3 L340.2,199.8 L348.0,202.9 L358.9,204.4 L374.4,206.8 L386.9,208.6 L398.0,210.8 L407.5,212.5 L425.0,216.3 L442.4,219.8 L459.9,223.0 L486.2,227.3 L501.9,229.4 L510.6,231.2 L519.4,229.4 L538.6,226.5 L547.3,228.6 L556.1,231.2 L573.6,230.8 L580.0,230.2 L597.5,232.0 L623.7,234.1 L649.9,234.6 L677.9,235.1 L684.0,231.6 L685.0,232.0 L685.0,413.8 M696.0,413.8 L696.0,231.0 L697.6,230.6 L712.9,231.1 L737.3,235.8 L754.8,238.1 L774.1,241.6 L774.9,241.8 L774.9,413.8 M874.9,413.8 L874.9,224.6 L877.4,224.6 L877.4,413.8"/>
<path class="s" stroke="#D9802F" stroke-width="2.9" d="M32.5,366.7 L47.02,368.19 Q50.00,368.50 52.99,368.71 L64.41,369.49 Q67.40,369.70 70.40,369.71 L92.00,369.79 Q95.00,369.80 97.95,369.26 L99.65,368.94 Q102.60,368.40 105.58,368.07 L117.02,366.83 Q120.00,366.50 122.98,366.19 L138.12,364.61 Q141.10,364.30 144.09,364.57 L157.01,365.73 Q160.00,366.00 162.99,366.28 L198.01,369.52 Q201.00,369.80 204.00,369.80 L225.00,369.80 Q228.00,369.80 230.93,369.17 L232.47,368.83 Q235.40,368.20 238.38,367.88 L265.12,365.02 Q268.10,364.70 270.45,364.30 L270.45,364.30 Q272.80,363.90 275.71,364.63 L279.09,365.47 Q282.00,366.20 282.70,366.35 L282.70,366.35 Q283.40,366.50 286.39,366.27 L295.81,365.53 Q298.80,365.30 301.79,365.02 L324.61,362.88 Q327.60,362.60 330.59,362.35 L347.61,360.95 Q350.60,360.70 353.59,360.49 L372.01,359.21 Q375.00,359.00 378.00,358.85 L397.50,357.85 Q400.50,357.70 403.50,357.64 L436.00,356.96 Q439.00,356.90 442.00,356.92 L487.00,357.18 Q490.00,357.20 493.00,357.15 L505.80,356.95 Q508.80,356.90 510.40,356.30 L510.40,356.30 Q512.00,355.70 515.00,355.70 L647.00,355.70 Q650.00,355.70 651.50,356.35 L651.50,356.35 Q653.00,357.00 656.00,357.02 L680.50,357.18 Q683.50,357.20 684.25,358.20 L684.25,358.20 Q685.00,359.20 688.00,359.20 L690.00,359.20 Q693.00,359.20 695.90,358.43 L699.10,357.57 Q702.00,356.80 705.00,356.80 L715.30,356.80 Q718.30,356.80 721.30,356.72 L761.90,355.68 Q764.90,355.60 767.87,355.18 L778.23,353.72 Q781.20,353.30 784.19,353.52 L796.91,354.48 Q799.90,354.70 802.89,354.94 L817.01,356.06 Q820.00,356.30 823.00,356.42 L834.30,356.88 Q837.30,357.00 840.30,357.11 L848.30,357.39 Q851.30,357.50 854.26,357.98 L866.94,360.02 Q869.90,360.50 872.89,360.79 L890.21,362.51 Q893.20,362.80 896.18,363.11 L913.62,364.89 Q916.60,365.20 919.60,365.25 L936.90,365.55 Q939.90,365.60 942.87,365.99 L954.5,367.5"/>
<polyline class="s" stroke="#889DC9" stroke-width="3.0" stroke-linejoin="miter" points="32.5,414.2 69.4,414.2 69.4,369.6 134.5,369.6 134.5,414.2 202.4,414.2 202.4,369.6 268.6,369.6 268.6,414.2 282.6,414.2 282.6,359.9 685.0,359.9 685.0,414.2 695.5,414.2 695.5,359.9 774.9,359.9 774.9,414.2 874.9,414.2 874.9,359.9 877.4,359.9 877.4,414.2 955.0,414.2"/>
<polyline class="s" stroke="#B7C699" stroke-width="2.9" stroke-linejoin="miter" points="32.5,453.0 34.0,453.0 34.0,404.5 38.3,404.5 38.3,453.0 69.5,453.0 69.5,404.5 73.6,404.5 73.6,453.0 79.3,453.0 79.3,404.5 86.0,404.5 86.0,453.0 88.5,453.0 88.5,404.5 134.5,404.5 134.5,453.0 172.6,453.0 172.6,404.5 176.3,404.5 176.3,453.0 201.9,453.0 201.9,404.5 207.2,404.5 207.2,453.0 214.2,453.0 214.2,404.5 220.5,404.5 220.5,453.0 222.5,453.0 222.5,404.5 268.6,404.5 268.6,453.0 282.5,453.0 282.5,404.5 290.0,404.5 290.0,453.0 293.7,453.0 293.7,404.5 685.2,404.5 685.2,453.0 695.3,453.0 695.3,404.5 774.8,404.5 774.8,453.0 864.1,453.0 864.1,404.5 867.7,404.5 867.7,453.0 874.5,453.0 874.5,404.5 877.5,404.5 877.5,453.0 915.9,453.0 915.9,404.5 919.4,404.5 919.4,453.0 955.0,453.0"/>
<line x1="975.5" y1="173.4" x2="1001.5" y2="173.4" stroke="#3A6598" stroke-width="2.8" stroke-linecap="round"/>
<text class="lg" x="1003.7" y="177.8" textLength="30.1" lengthAdjust="spacingAndGlyphs">T° Ext</text>
<line x1="975.5" y1="197.4" x2="1001.5" y2="197.4" stroke="#A7363C" stroke-width="2.8" stroke-linecap="round"/>
<text class="lg" x="1003.7" y="201.8" textLength="68.9" lengthAdjust="spacingAndGlyphs">T° Chaudière</text>
<line x1="975.5" y1="221.4" x2="1001.5" y2="221.4" stroke="#7F9F40" stroke-width="2.8" stroke-linecap="round"/>
<text class="lg" x="1003.7" y="225.8" textLength="121.0" lengthAdjust="spacingAndGlyphs">T° Chaudière Consigne</text>
<line x1="975.5" y1="245.4" x2="1001.5" y2="245.4" stroke="#684A90" stroke-width="2.8" stroke-linecap="round"/>
<text class="lg" x="1003.7" y="249.8" textLength="51.0" lengthAdjust="spacingAndGlyphs">T° Départ</text>
<line x1="975.5" y1="269.4" x2="1001.5" y2="269.4" stroke="#3B96AD" stroke-width="2.8" stroke-linecap="round"/>
<text class="lg" x="1003.7" y="273.8" textLength="102.9" lengthAdjust="spacingAndGlyphs">T° Départ Consigne</text>
<line x1="975.5" y1="293.4" x2="1001.5" y2="293.4" stroke="#D9802F" stroke-width="2.8" stroke-linecap="round"/>
<text class="lg" x="1003.7" y="297.8" textLength="65.8" lengthAdjust="spacingAndGlyphs">T° Ambiante</text>
<line x1="975.5" y1="317.4" x2="1001.5" y2="317.4" stroke="#889DC9" stroke-width="2.8" stroke-linecap="round"/>
<text class="lg" x="1003.7" y="321.8" textLength="118.8" lengthAdjust="spacingAndGlyphs">T° Ambiante Consigne</text>
<line x1="975.5" y1="341.4" x2="1001.5" y2="341.4" stroke="#B7C699" stroke-width="2.8" stroke-linecap="round"/>
<text class="lg" x="1003.7" y="345.8" textLength="139.8" lengthAdjust="spacingAndGlyphs">Circulateur Chauffage *10</text>
<ellipse cx="193.5" cy="446.8" rx="172" ry="36.4" fill="none" stroke="#e8101a" stroke-width="2.2"/>
<g fill="none" stroke="#fb0d0d" stroke-width="4.4" stroke-linecap="round" stroke-linejoin="round"><line x1="385.4" y1="315.5" x2="323.2" y2="419.2"/><polyline points="326.6,397.0 322.4,420.2 342.8,404.8"/></g>
<text x="353.8" y="298.1" font-size="23.2px" font-weight="bold" fill="#e6121c">t° négatives</text>
</svg>
</body></html>
